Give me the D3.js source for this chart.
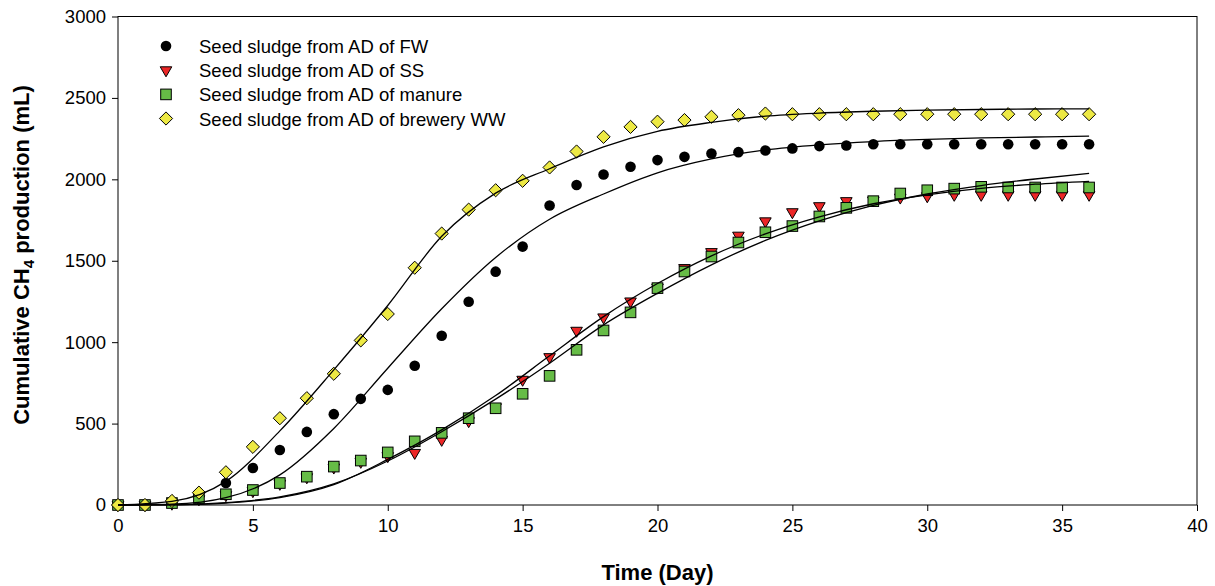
<!DOCTYPE html>
<html>
<head>
<meta charset="utf-8">
<script src="https://cdn.jsdelivr.net/npm/d3@7"></script>
<style>
  body { margin: 0; background: #fff; }
  svg text { font-family: "Liberation Sans", Arial, sans-serif; }
</style>
</head>
<body>
<div id="field"></div>
<script>
'use strict';

// measured data, day 0..36
const days = d3.range(0, 37);
const fw      = [0, 0, 12, 55, 135, 227, 338, 449, 558, 652, 707, 855, 1039, 1248, 1433, 1587, 1839, 1965, 2030, 2077, 2118, 2138, 2159, 2167, 2177, 2190, 2204, 2208, 2215, 2215, 2215, 2215, 2215, 2215, 2215, 2215, 2215];
const ss      = [0, 0, 8, 35, 60, 85, 130, 170, 230, 265, 300, 320, 400, 515, 600, 769, 908, 1070, 1152, 1250, 1335, 1455, 1553, 1654, 1742, 1798, 1835, 1866, 1870, 1888, 1896, 1905, 1905, 1905, 1905, 1905, 1905];
const manure  = [0, 0, 12, 43, 66, 92, 135, 174, 236, 273, 323, 391, 443, 533, 594, 683, 793, 953, 1072, 1183, 1332, 1434, 1526, 1612, 1675, 1713, 1772, 1825, 1866, 1913, 1933, 1943, 1954, 1950, 1950, 1950, 1950];
const brewery = [0, 0, 25, 76, 201, 357, 533, 656, 806, 1011, 1173, 1457, 1667, 1814, 1933, 1991, 2073, 2171, 2261, 2322, 2354, 2364, 2384, 2394, 2404, 2400, 2400, 2400, 2400, 2400, 2400, 2400, 2400, 2400, 2400, 2400, 2400];

// fitted curves every 2 days
const fitDays    = [0, 2, 4, 6, 8, 10, 12, 14, 16, 18, 20, 22, 24, 26, 28, 30, 32, 34, 36];
const fitFw      = [0, 5, 45, 185, 470, 840, 1205, 1520, 1755, 1910, 2040, 2125, 2180, 2212, 2232, 2245, 2254, 2260, 2265];
const fitSs      = [0, 1, 12, 45, 125, 280, 461, 672, 916, 1157, 1360, 1530, 1665, 1770, 1850, 1905, 1945, 1970, 1988];
const fitManure  = [0, 1, 14, 50, 130, 270, 450, 650, 871, 1106, 1300, 1475, 1625, 1745, 1840, 1910, 1962, 2002, 2036];
const fitBrewery = [0, 22, 145, 455, 830, 1225, 1650, 1915, 2065, 2200, 2295, 2350, 2388, 2407, 2418, 2425, 2429, 2432, 2433];

const xTicks = [0, 5, 10, 15, 20, 25, 30, 35, 40];
const yTicks = [0, 500, 1000, 1500, 2000, 2500, 3000];
const legendLabels = ['Seed sludge from AD of FW', 'Seed sludge from AD of SS', 'Seed sludge from AD of manure', 'Seed sludge from AD of brewery WW'];

const w = 1215, h = 586;
const svg = d3.select('#field').append('svg').attr('width', w).attr('height', h);

const x = d3.scaleLinear().domain([0, 40]).range([118, 1197]);
const y = d3.scaleLinear().domain([0, 3000]).range([505, 16.5]);

// frame
svg.append('rect').attr('x', x(0)).attr('y', y(3000)).attr('width', x(40) - x(0)).attr('height', y(0) - y(3000))
  .attr('fill', 'none').attr('stroke', '#000').attr('stroke-width', 1);

const xAxis = svg.append('g').attr('transform', 'translate(0,' + y(0) + ')')
  .call(d3.axisBottom(x).tickValues(xTicks).tickSize(6).tickPadding(8).tickFormat(d3.format('d')));
const yAxis = svg.append('g').attr('transform', 'translate(' + x(0) + ',0)')
  .call(d3.axisLeft(y).tickValues(yTicks).tickSize(6).tickPadding(6).tickFormat(d3.format('d')));
[xAxis, yAxis].forEach(function(a) {
  a.select('.domain').remove();
  a.selectAll('line').attr('stroke', '#000');
  a.selectAll('text').attr('fill', '#000').style('font-size', '18.5px');
});

// axis titles
svg.append('text').attr('x', (x(0) + x(40)) / 2).attr('y', 580).attr('text-anchor', 'middle')
  .style('font-size', '22px').style('font-weight', 'bold').text('Time (Day)');
const yl = svg.append('text').attr('transform', 'translate(29,255) rotate(-90)').attr('text-anchor', 'middle')
  .style('font-size', '22px').style('font-weight', 'bold');
yl.append('tspan').text('Cumulative CH');
yl.append('tspan').attr('dy', 5).style('font-size', '15px').text('4');
yl.append('tspan').attr('dy', -5).text(' production (mL)');

// marker shapes
function circle(g, cx, cy) {
  g.append('circle').attr('cx', cx).attr('cy', cy).attr('r', 5.3).attr('fill', '#000');
}
function triangle(g, cx, cy) {
  g.append('path').attr('d', 'M' + (cx - 5.8) + ',' + (cy - 3.5) + 'L' + (cx + 5.8) + ',' + (cy - 3.5) + 'L' + cx + ',' + (cy + 6.5) + 'Z')
    .attr('fill', '#EC2626').attr('stroke', '#000').attr('stroke-width', 1);
}
function square(g, cx, cy) {
  g.append('rect').attr('x', cx - 5.3).attr('y', cy - 5.3).attr('width', 10.6).attr('height', 10.6)
    .attr('fill', '#66BC46').attr('stroke', '#000').attr('stroke-width', 1);
}
function diamond(g, cx, cy) {
  g.append('path').attr('d', 'M' + cx + ',' + (cy - 6.6) + 'L' + (cx + 6.6) + ',' + cy + 'L' + cx + ',' + (cy + 6.6) + 'L' + (cx - 6.6) + ',' + cy + 'Z')
    .attr('fill', '#EDE944').attr('stroke', '#000').attr('stroke-width', 1);
}

const series = [[fw, circle], [ss, triangle], [manure, square], [brewery, diamond]];
const marks = svg.append('g');
series.forEach(function(s) {
  days.forEach(function(d, i) { s[1](marks, x(d), y(s[0][i])); });
});

// fitted lines on top of markers
const line = d3.line().x(function(d){ return x(d[0]); }).y(function(d){ return y(d[1]); }).curve(d3.curveMonotoneX);
[fitFw, fitSs, fitManure, fitBrewery].forEach(function(f) {
  svg.append('path').datum(fitDays.map(function(d, i){ return [d, f[i]]; }))
    .attr('d', line).attr('fill', 'none').attr('stroke', '#000').attr('stroke-width', 1.3);
});

// legend
const legendY = [46, 70.3, 94.4, 118.5];
const lg = svg.append('g');
series.forEach(function(s, i) {
  s[1](lg, 166, legendY[i]);
  lg.append('text').attr('x', 199).attr('y', legendY[i] + 7).style('font-size', '18.5px').text(legendLabels[i]);
});
</script>
</body>
</html>
